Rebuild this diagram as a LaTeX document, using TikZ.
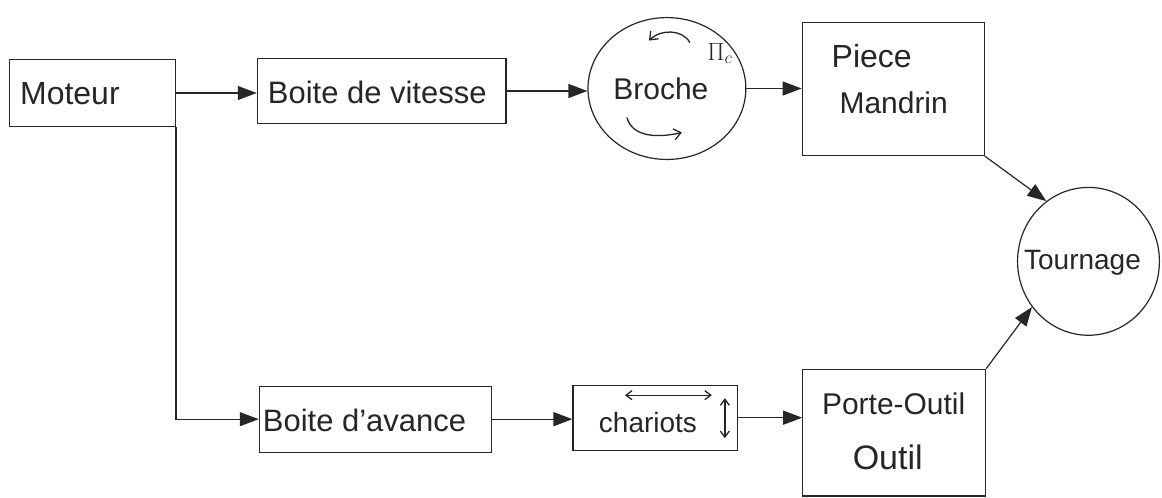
\documentclass[tikz,border=0pt]{standalone}
\usepackage{fontspec}
\setmainfont{Liberation Sans}
\usetikzlibrary{arrows.meta,shapes.geometric}
\newcommand{\fsz}[1]{\fontsize{#1}{#1}\selectfont}
\begin{document}
\begin{tikzpicture}[x=1pt,y=-1pt,
  every path/.style={line width=1.2pt, draw=black!85},
  blk/.style={draw=black!85, line width=1.2pt, rectangle, inner sep=0pt},
  rnd/.style={draw=black!85, line width=1.2pt, ellipse, inner sep=0pt},
  lbl/.style={font=\fsz{31}, text=black!85, inner sep=0pt},
  conn/.style={-{Triangle[length=19pt,width=14pt]}},
  barb/.style={line width=1.3pt},
]
\useasboundingbox (0,0) rectangle (1162,497);
\fill[white] (0,0) rectangle (1162,497);

% boxes
\node[blk, minimum width=166pt, minimum height=67pt] (mot) at (92,92.5) {};
\node[blk, minimum width=249pt, minimum height=65pt] (bv) at (381.5,90.5) {};
\node[rnd, minimum width=158pt, minimum height=142pt] (br) at (667,88) {};
\node[blk, minimum width=182pt, minimum height=133pt] (pm) at (893.5,88.5) {};
\node[rnd, minimum width=142pt, minimum height=148pt] (to) at (1089,261) {};
\node[blk, minimum width=232pt, minimum height=66pt] (ba) at (375,419) {};
\node[blk, minimum width=165pt, minimum height=65pt] (ch) at (655.5,417.5) {};
\node[blk, minimum width=183pt, minimum height=127pt] (po) at (894.5,432.5) {};

% texts
\node[lbl, font=\fsz{32}, anchor=west] (tmot) at (19,93) {Moteur};
\node[lbl, font=\fsz{31}, anchor=west] (tbv) at (267,92) {Boite de vitesse};
\node[lbl, font=\fsz{30}] (tbr) at (661,88) {Broche};
\node[lbl, font=\fsz{24}] (tnc) at (720,53) {$\Pi_c$};
\node[lbl, font=\fsz{32}] (tpi) at (872,56) {Piece};
\node[lbl, font=\fsz{30}] (tma) at (894,102) {Mandrin};
\node[lbl, font=\fsz{28}] (tto) at (1083,262) {Tournage};
\node[lbl, font=\fsz{31}, anchor=west] (tba) at (262,420) {Boite d'avance};
\node[lbl, font=\fsz{28}] (tch) at (648,422) {chariots};
\node[lbl, font=\fsz{30}] (tpo) at (894,404) {Porte-Outil};
\node[lbl, font=\fsz{34}] (tou) at (888,457) {Outil};

% connectors
\draw[conn] (mot.east) -- (mot.east -| bv.west);
\draw[conn] (bv.east) -- (bv.east -| br.west);
\draw[conn] (br.east) -- (br.east -| pm.west);
\draw[conn] (pm.south east) -- (to.125);
\draw[conn] (po.north east) -- (to.219);
\draw[conn] (mot.south east) |- (ba.west);
\draw[conn] (ba.east) -- (ba.east -| ch.west);
\draw[conn] (ch.east) -- (ch.east -| po.west);

% rotation arrows in Broche
\draw[barb, -{Straight Barb[length=7pt,width=11pt]}] (690,42) .. controls (682,28) and (660,29) .. (649,40);
\draw[barb, -{Straight Barb[length=7pt,width=11pt]}] (627,117) .. controls (632,136) and (656,138) .. (682,132);

% movement arrows in chariots
\draw[barb, {Straight Barb[length=6pt,width=9pt]}-{Straight Barb[length=6pt,width=9pt]}] (625,395) -- (712,395);
\draw[barb, {Straight Barb[length=6pt,width=9pt]}-{Straight Barb[length=6pt,width=9pt]}] (725,398) -- (725,438);
\end{tikzpicture}
\end{document}
